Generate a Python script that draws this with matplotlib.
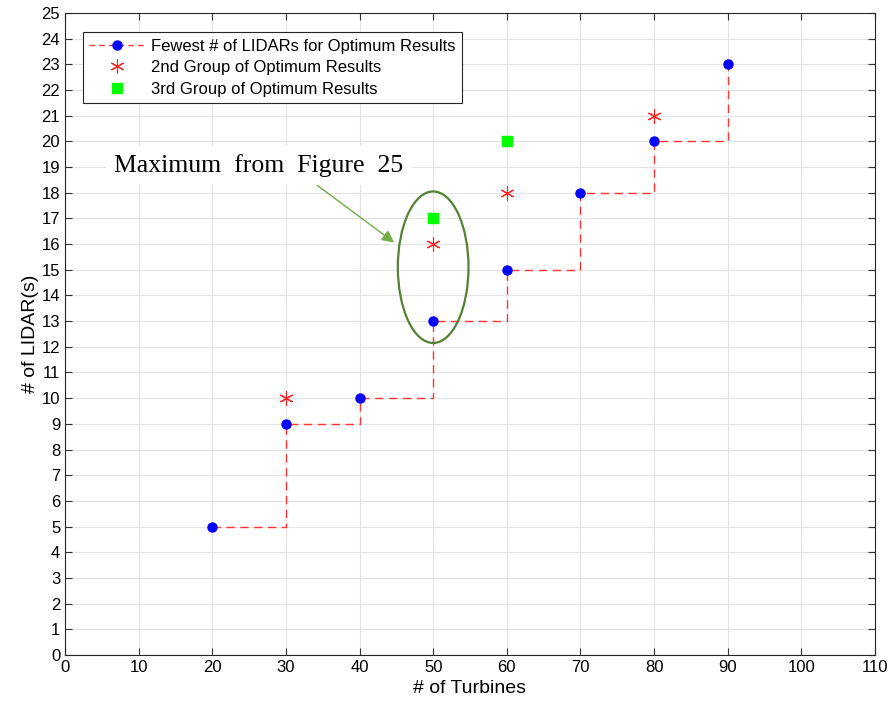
import matplotlib
matplotlib.use("Agg")
import matplotlib.pyplot as plt
from matplotlib.patches import Ellipse

turbines = [20, 30, 40, 50, 60, 70, 80, 90]
fewest_lidars = [5, 9, 10, 13, 15, 18, 20, 23]
second_x = [30, 50, 60, 80]
second_y = [10, 16, 18, 21]
third_x = [50, 60]
third_y = [17, 20]

plt.rcParams['font.family'] = ['Liberation Sans', 'DejaVu Sans']

fig = plt.figure(figsize=(8.93, 7.17), dpi=100)
ax = fig.add_axes([0.0728, 0.0865, 0.907, 0.8954])

ax.plot(turbines, fewest_lidars, drawstyle='steps-post', linestyle='--', color='#FF3333',
        linewidth=1.0, dashes=(6, 4), zorder=3)
ax.plot(turbines, fewest_lidars, linestyle='none', marker='o', color='#0000FF',
        markersize=6.5, zorder=4)
# legend proxies
l1, = ax.plot([], [], linestyle='--', dashes=(4, 3), color='#FF3333', linewidth=1.0,
              marker='o', markerfacecolor='#0000FF', markeredgecolor='#0000FF', markersize=6.5)
s2 = ax.plot(second_x, second_y, linestyle='none', marker=(6, 2, 0), color='#FF2020',
             markersize=10, markeredgewidth=0.8, zorder=4)[0]
s3 = ax.plot(third_x, third_y, linestyle='none', marker='s', color='#00FF00',
             markersize=7, zorder=4)[0]

ax.set_xlim(0, 110)
ax.set_ylim(0, 25)
ax.set_xticks(range(0, 111, 10))
ax.set_yticks(range(0, 26, 1))
ax.grid(True, color='#E3E3E3', linewidth=0.8)
ax.set_axisbelow(True)
ax.tick_params(direction='in', top=True, right=True, labelsize=12, length=5, color='#333333')
for sp in ax.spines.values():
    sp.set_color('#262626')
    sp.set_linewidth(0.8)

ax.set_xlabel('# of Turbines', fontsize=14)
ax.set_ylabel('# of LIDAR(s)', fontsize=14, labelpad=2)

leg = ax.legend([l1, s2, s3],
                ['Fewest # of LIDARs for Optimum Results',
                 '2nd Group of Optimum Results',
                 '3rd Group of Optimum Results'],
                loc='upper left', bbox_to_anchor=(0.022, 0.97), borderaxespad=0,
                fontsize=12, fancybox=False, edgecolor='#262626', framealpha=1,
                handlelength=3.3, handletextpad=0.4, borderpad=0.4, labelspacing=0.38)
leg.get_frame().set_linewidth(0.8)

ell = Ellipse((50, 15.1), 9.6, 5.9, fill=False, edgecolor='#548235', linewidth=1.6, zorder=5)
ax.add_patch(ell)

ax.annotate('', xy=(45.0, 16.0), xytext=(32.8, 18.6),
            arrowprops=dict(arrowstyle='-|>', color='#70AD47', lw=1.0, mutation_scale=18),
            zorder=5)
ax.text(6.7, 19.05, 'Maximum  from  Figure  25', fontsize=18.5, family='Liberation Serif',
        ha='left', va='center',
        bbox=dict(facecolor='white', edgecolor='none', pad=6), zorder=6)

fig.savefig('out.png', dpi=100)
